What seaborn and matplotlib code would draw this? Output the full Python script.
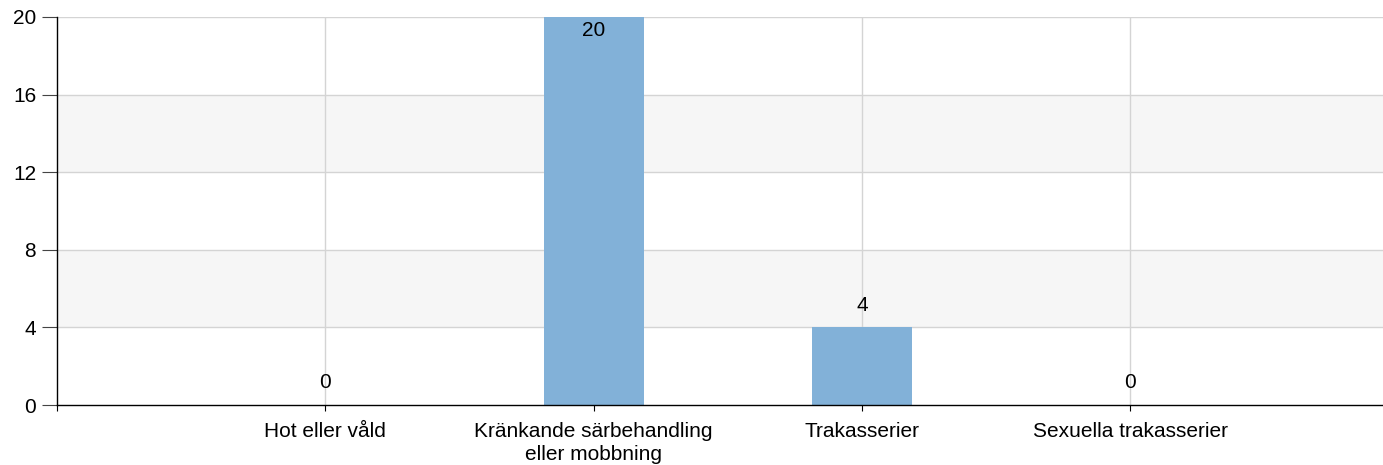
import matplotlib
matplotlib.use("Agg")
import matplotlib.pyplot as plt
import seaborn as sns
import pandas as pd

categories = ["Hot eller våld", "Kränkande särbehandling\neller mobbning",
              "Trakasserier", "Sexuella trakasserier"]
values = [0, 20, 4, 0]
y_ticks = [0, 4, 8, 12, 16, 20]

sns.set_theme(style="white")
plt.rcParams["font.family"] = ["Liberation Sans", "DejaVu Sans"]
plt.rcParams["text.color"] = "black"
plt.rcParams["xtick.color"] = "black"
plt.rcParams["ytick.color"] = "black"

df = pd.DataFrame({"category": categories, "count": values})

fig = plt.figure(figsize=(13.83, 4.65), dpi=100)
ax = fig.add_axes([57 / 1383, 1 - 405 / 465, 1 - 57 / 1383, (405 - 17) / 465])

# alternating bands
for lo in y_ticks[1::2]:
    ax.axhspan(lo, lo + 4, color="#f6f6f6", zorder=0, lw=0)
for t in y_ticks[1:]:
    ax.axhline(t, color="#d4d4d4", lw=1, zorder=0.5)

sns.barplot(data=df, x="category", y="count", color="#82b1d8", width=0.372,
            saturation=1, ax=ax, zorder=2, edgecolor="none", linewidth=0)

for i in range(len(categories)):
    ax.axvline(i, color="#d4d4d4", lw=1, zorder=0.5)

fs = 15
ymax = max(y_ticks)
for i, v in enumerate(values):
    if v >= ymax:
        ax.annotate(str(v), (i, v), xytext=(0, -9.5), textcoords="offset points",
                    ha="center", va="center", fontsize=fs, color="black", zorder=3)
    else:
        ax.annotate(str(v), (i, v), xytext=(0, 16), textcoords="offset points",
                    ha="center", va="center", fontsize=fs, color="black", zorder=3)

ax.set_xlim(-1, 3.942)
ax.set_ylim(0, 20)
ax.set_xticks([-1, 0, 1, 2, 3])
ax.set_xticklabels([""] + categories)
ax.set_yticks(y_ticks)
ax.set_xlabel("")
ax.set_ylabel("")
ax.tick_params(axis="y", length=11, width=0.8, color="#444444", pad=4,
               labelsize=fs, left=True, labelcolor="black")
ax.tick_params(axis="x", length=4, width=0.8, color="black", pad=8,
               labelsize=fs, bottom=True, labelcolor="black")
for lbl in ax.get_xticklabels():
    lbl.set_multialignment("center")
    lbl.set_linespacing(1.3)

for s in ["top", "right"]:
    ax.spines[s].set_visible(False)
for s in ["left", "bottom"]:
    ax.spines[s].set_color("black")
    ax.spines[s].set_linewidth(1)
    ax.spines[s].set_zorder(4)

fig.savefig("out.png", dpi=100)
